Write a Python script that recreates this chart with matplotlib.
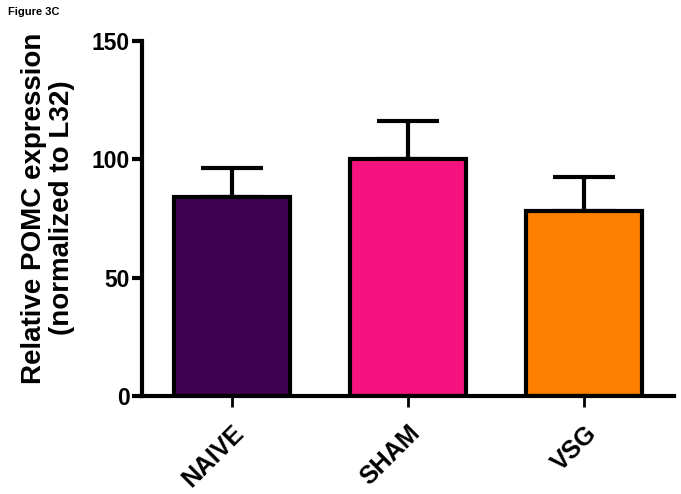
import matplotlib
matplotlib.use("Agg")
import matplotlib.pyplot as plt

# relative POMC expression per group (mean + SEM)
groups = ["NAIVE", "SHAM", "VSG"]
means = [84, 100, 78]
sems = [12.5, 16, 14.5]
colors = ["#3f0052", "#f7137f", "#ff8000"]

plt.rcParams['font.family'] = ['Liberation Sans', 'DejaVu Sans']
plt.rcParams['font.weight'] = 'bold'

fig = plt.figure(figsize=(6.81, 4.94), dpi=100)
ax = fig.add_axes([0.2085, 0.1984, 0.7812, 0.7186])

x = list(range(len(groups)))
ax.bar(x, means, width=0.66, color=colors, edgecolor="black", linewidth=3, zorder=2)
ax.errorbar(x, means, yerr=[[0] * len(sems), sems], fmt="none", ecolor="black",
            elinewidth=3, capsize=22, capthick=3, zorder=1)

ax.set_xlim(-0.51, 2.51)
ax.set_ylim(0, 150)
ax.set_yticks([0, 50, 100, 150])
ax.set_xticks(x)
ax.set_xticklabels(groups, rotation=45, ha="right", rotation_mode="anchor", fontsize=18, fontweight="bold")
ax.tick_params(axis="y", labelsize=16.5, width=3, length=7, pad=2)
ax.tick_params(axis="x", width=2, length=8, pad=10)
for lbl in ax.get_yticklabels():
    lbl.set_fontweight("bold")

ax.spines["top"].set_visible(False)
ax.spines["right"].set_visible(False)
ax.spines["left"].set_linewidth(3)
ax.spines["bottom"].set_linewidth(3)

ax.set_ylabel("Relative POMC expression\n(normalized to L32)", fontsize=20, fontweight="bold",
              linespacing=1.1)
ax.yaxis.set_label_coords(-0.125, 0.53)

fig.text(0.012, 0.985, "Figure 3C", fontsize=8, fontweight="bold", va="top")

fig.savefig("out.png", dpi=100)
